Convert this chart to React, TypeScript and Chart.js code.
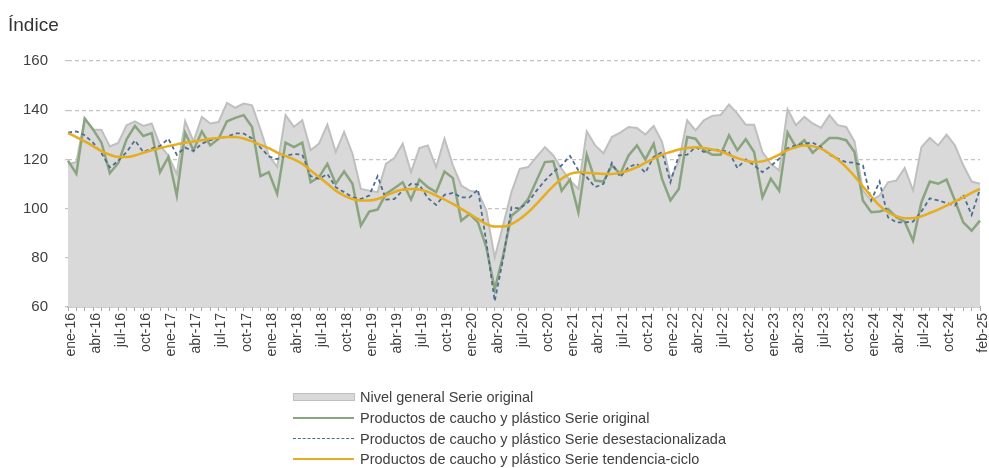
import { useEffect, useRef } from 'react';
import { Chart, registerables } from 'chart.js';

Chart.register(...registerables);

const MONTHS = ['ene', 'feb', 'mar', 'abr', 'may', 'jun', 'jul', 'ago', 'sep', 'oct', 'nov', 'dic'];
const YEARS = ['16', '17', '18', '19', '20', '21', '22', '23', '24', '25'];
const LAST_MONTH_2025 = 2; // ene, feb

const categories: string[] = [];
YEARS.forEach((y) => {
  MONTHS.forEach((m, mi) => {
    if (y === '25' && mi >= LAST_MONTH_2025) return;
    categories.push(`${m}-${y}`);
  });
});

const Y_TICKS = [60, 80, 100, 120, 140, 160];

const nivelGeneral = [
  118, 119, 136.6, 132.2, 132, 125.3, 126.7, 133.9, 135.5, 133.6, 134.6, 125.7,
  121.5, 114, 135.5, 127.3, 137.3, 134.6, 135.2, 143, 141, 142.7, 142, 132.2,
  121.6, 116.9, 138, 133.2, 135.9, 123.7, 126.4, 134.1, 123, 131.2, 122.3, 108,
  107.3, 106.7, 118.2, 120.5, 126.4, 114.8, 124.6, 125.7, 116.9, 128.4, 117.6, 109.4,
  107.3, 106.7, 99.2, 80.1, 93.1, 106.7, 116.2, 116.9, 121, 125, 121.6, 116.2,
  111.4, 108, 131.4, 125.7, 122.5, 129.1, 130.9, 133.2, 132.8, 130.1, 133.6, 127.1,
  112.1, 119.2, 135.9, 131.8, 135.9, 137.7, 138, 142.3, 138.6, 134.1, 134.1, 123,
  118.2, 115.5, 140.4, 133.9, 137.3, 134.6, 132.8, 138, 133.9, 133.2, 127.3, 107.3,
  103.3, 105.3, 110.7, 111.4, 116.5, 107.3, 125, 128.7, 125.7, 130.1, 125.7, 117.6,
  111, 110.1,
];

const cauchoOriginal = [
  119.5, 114.2, 136.6, 132.2, 126.8, 114.4, 118.5, 128.2, 133.6, 129.5, 130.7, 114.8,
  121, 105.3, 130.8, 123.7, 131.4, 125.7, 128.4, 135.5, 136.9, 138, 133.2, 113.2,
  114.8, 106, 126.8, 125, 126.8, 110.7, 112.8, 118.2, 110.1, 115.1, 110.1, 93.1,
  98.8, 99.6, 106, 108.3, 110.7, 103.7, 111.8, 108.7, 106.7, 115.1, 112.4, 95.1,
  97.8, 94.4, 84.2, 67.2, 80.8, 97.1, 99.9, 103.9, 111.4, 118.9, 119.2, 107.3,
  111.8, 98.5, 121.9, 111.4, 111, 117.6, 114.1, 121.6, 125.7, 120, 126.4, 112.1,
  103.3, 108, 129.1, 128.4, 123.7, 121.9, 121.9, 129.8, 123.7, 128.2, 123, 104.6,
  112.1, 107.3, 130.9, 125, 127.8, 122.7, 125.7, 128.7, 128.7, 127.8, 123, 103.3,
  98.5, 98.8, 99.9, 96.5, 94.7, 86.9, 102.6, 111, 110.1, 111.8, 103.3, 94.4,
  91, 95.1,
];

const cauchoDesest = [
  130.9, 131.4, 129.8, 126.8, 122.5, 116.7, 119.4, 123, 127.7, 123, 124.4, 125.5,
  128.4, 121.9, 124.8, 123.4, 126.4, 127.8, 128.5, 129.2, 130.6, 130.5, 128.5, 124.8,
  121.2, 120.1, 121.5, 122.2, 121.9, 113.2, 112.1, 114.1, 108.7, 106.7, 104.6, 103.9,
  105.3, 113.2, 103.7, 103.9, 107.3, 110.1, 109.7, 104.3, 101.5, 105.6, 106.4, 104.6,
  104.6, 107.8, 86.3, 62.4, 79.5, 100.5, 100, 102.6, 107.3, 111.4, 114.8, 117.6,
  121.4, 115.5, 112.8, 108.7, 110.1, 118.6, 112.8, 116.9, 118.2, 114.6, 121, 123,
  110.7, 121.6, 121.9, 125, 123, 124.1, 123.7, 123, 116.5, 120, 117.6, 114.8,
  117.3, 120.3, 124.5, 125.7, 126.4, 126.8, 125, 121.9, 120.3, 118.9, 118.6, 117.6,
  103.3, 111, 96.5, 94.4, 94.4, 94.7, 98.8, 104.2, 103.3, 102.3, 101.2, 105.6,
  97.4, 108,
];

const cauchoTendencia = [
  130.7, 129.1, 127.3, 125.4, 123.4, 121.9, 121, 121, 121.6, 122.7, 123.7, 124.6,
  125.4, 126.1, 126.8, 127.3, 127.8, 128.4, 128.7, 129.1, 129.1, 128.5, 127.3, 125.9,
  124.6, 122.8, 121.4, 120, 118.2, 115.5, 112.8, 110.1, 107.3, 105.3, 103.9, 103.3,
  103.3, 103.9, 105.3, 106.7, 107.8, 108, 107.8, 106.8, 105.3, 103.7, 101.9, 99.9,
  97.8, 95.8, 93.7, 92.7, 92.7, 93.7, 95.8, 98.5, 101.9, 105.6, 109.1, 112.1,
  114.1, 114.8, 114.6, 114.3, 114.1, 114.1, 114.6, 115.5, 116.9, 118.6, 120.3, 121.9,
  123, 124, 124.6, 124.9, 124.6, 124, 123.3, 121.9, 120.5, 119.5, 118.9, 119.2,
  120.3, 121.9, 123.8, 125, 125.7, 125.4, 124.4, 122.3, 120, 116.9, 113.2, 109.1,
  105, 101.2, 98.5, 96.9, 96.1, 96.1, 96.9, 98.2, 99.6, 101.2, 102.9, 104.6,
  106.4, 108,
];

const SERIES_NAMES = [
  'Nivel general Serie original',
  'Productos de caucho y plástico Serie original',
  'Productos de caucho y plástico Serie desestacionalizada',
  'Productos de caucho y plástico Serie tendencia-ciclo',
];

const GRAY_FILL = '#d9d9d9';
const GRAY_LINE = '#bfbfbf';
const GREEN = '#8aa47f';
const BLUE = '#4e6d90';
const YELLOW = '#e5ad1f';
const TEXT = '#404040';
const FONT = '"Liberation Sans", Arial, Helvetica, sans-serif';

export default function App() {
  const ref = useRef<HTMLCanvasElement>(null);

  useEffect(() => {
    const lastIdx = categories.length - 1;
    const chart = new Chart(ref.current!, {
      type: 'line',
      data: {
        labels: categories,
        datasets: [
          {
            label: SERIES_NAMES[0],
            data: nivelGeneral,
            borderColor: GRAY_LINE,
            backgroundColor: GRAY_FILL,
            borderWidth: 2,
            fill: 'start',
            pointRadius: 0,
            tension: 0,
            order: 3,
          },
          {
            label: SERIES_NAMES[1],
            data: cauchoOriginal,
            borderColor: GREEN,
            borderWidth: 2.5,
            fill: false,
            pointRadius: 0,
            tension: 0,
            order: 2,
          },
          {
            label: SERIES_NAMES[2],
            data: cauchoDesest,
            borderColor: BLUE,
            borderWidth: 1.8,
            borderDash: [4, 3],
            fill: false,
            pointRadius: 0,
            tension: 0,
            order: 1,
          },
          {
            label: SERIES_NAMES[3],
            data: cauchoTendencia,
            borderColor: YELLOW,
            borderWidth: 2.5,
            fill: false,
            pointRadius: 0,
            cubicInterpolationMode: 'monotone',
            order: 0,
          },
        ],
      },
      options: {
        responsive: false,
        animation: false,
        devicePixelRatio: 1,
        layout: { padding: { top: 61, right: 9, left: 0, bottom: 0 } },
        plugins: {
          legend: { display: false },
          tooltip: { enabled: false },
          title: { display: false },
        },
        scales: {
          x: {
            type: 'category',
            offset: false,
            afterFit: (s: any) => {
              s.height = 161;
              s.paddingRight = 0;
              s.paddingLeft = 0;
            },
            grid: {
              display: true,
              drawOnChartArea: false,
              drawTicks: true,
              tickLength: 4,
              color: '#a6a6a6',
            },
            border: { display: true, color: '#a6a6a6', width: 1.5 },
            ticks: {
              autoSkip: false,
              minRotation: 90,
              maxRotation: 90,
              padding: 2,
              labelOffset: 3,
              color: TEXT,
              font: { family: FONT, size: 14 },
              callback: (_v: any, i: number) =>
                (i % 3 === 0 && i < lastIdx - 1) || i === lastIdx ? categories[i] : '',
            },
          },
          y: {
            min: Y_TICKS[0],
            max: Y_TICKS[Y_TICKS.length - 1],
            afterFit: (s: any) => {
              s.width = 68;
            },
            afterBuildTicks: (s: any) => {
              s.ticks = Y_TICKS.map((v) => ({ value: v }));
            },
            grid: {
              color: '#c4c4c4',
              lineWidth: 1.2,
              drawTicks: true,
              tickLength: 3,
              tickBorderDash: [4, 3],
            },
            border: { display: false, dash: [4, 3] },
            ticks: {
              padding: 17,
              color: TEXT,
              font: { family: FONT, size: 15 },
            },
          },
        },
      } as any,
    });
    return () => chart.destroy();
  }, []);

  const legendItem = (i: number) => {
    let symbol;
    if (i === 0) {
      symbol = (
        <div
          style={{
            width: 60,
            height: 6,
            background: GRAY_FILL,
            border: `1px solid ${GRAY_LINE}`,
          }}
        />
      );
    } else if (i === 2) {
      symbol = <div style={{ width: 61, height: 0, borderTop: `1.5px dashed ${BLUE}` }} />;
    } else {
      symbol = (
        <div style={{ width: 61, height: 2, background: i === 1 ? GREEN : YELLOW }} />
      );
    }
    return (
      <div
        key={i}
        style={{ display: 'flex', alignItems: 'center', height: 20.7, whiteSpace: 'nowrap' }}
      >
        <div style={{ width: 67, display: 'flex', alignItems: 'center' }}>{symbol}</div>
        <span>{SERIES_NAMES[i]}</span>
      </div>
    );
  };

  return (
    <div
      style={{
        position: 'absolute',
        left: 0,
        top: 0,
        width: 989,
        height: 468,
        background: '#fff',
        overflow: 'hidden',
        fontFamily: FONT,
        color: TEXT,
      }}
    >
      <canvas
        ref={ref}
        width={989}
        height={468}
        style={{ position: 'absolute', left: 0, top: 0, width: 989, height: 468 }}
      />
      <div style={{ position: 'absolute', left: 8, top: 14, fontSize: 19, color: '#333' }}>
        Índice
      </div>
      <div style={{ position: 'absolute', left: 293, top: 387, fontSize: 14.5 }}>
        {[0, 1, 2, 3].map(legendItem)}
      </div>
    </div>
  );
}
